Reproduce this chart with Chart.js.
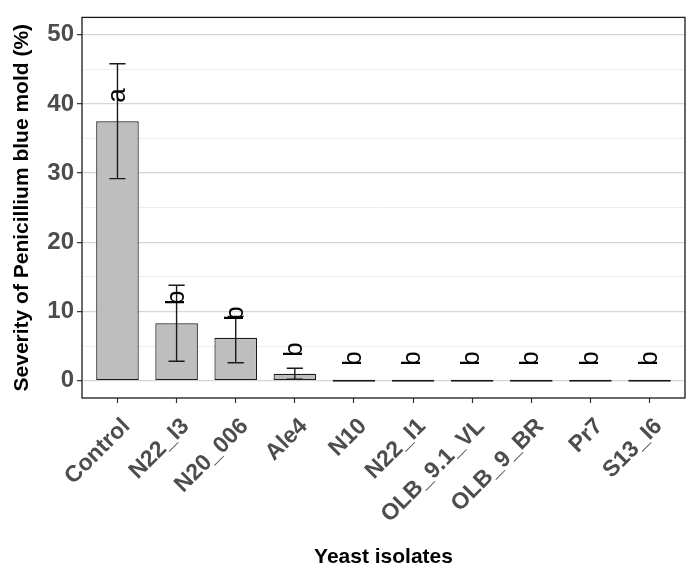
<!DOCTYPE html>
<html>
<head>
<meta charset="utf-8">
<script src="https://cdn.jsdelivr.net/npm/chart.js@4"></script>
<style>
  html, body { margin: 0; padding: 0; background: #ffffff; }
  #wrap { width: 692px; height: 578px; }
</style>
</head>
<body>
<div id="wrap"><canvas id="chart" width="692" height="578"></canvas></div>
<script>
// Data
const isolates = ['Control', 'N22_I3', 'N20_006', 'Ale4', 'N10', 'N22_I1', 'OLB_9.1_VL', 'OLB_9_BR', 'Pr7', 'S13_I6'];
const severity = [37.5, 8.3, 6.2, 1.0, 0, 0, 0, 0, 0, 0];
const errLow = [29.2, 2.8, 2.6, 0.2, null, null, null, null, null, null];
const errHigh = [45.8, 13.8, 9.3, 1.8, null, null, null, null, null, null];
const groupLetters = ['a', 'b', 'b', 'b', 'b', 'b', 'b', 'b', 'b', 'b'];
const letterPos = [41.2, 12.0, 9.7, 4.5, 3.2, 3.2, 3.2, 3.2, 3.2, 3.2];
const yTickValues = [0, 5, 10, 15, 20, 25, 30, 35, 40, 45, 50];
const yTickLabels = ['0', '', '10', '', '20', '', '30', '', '40', '', '50'];

const tickGray = '#4d4d4d';
const font = '"Liberation Sans", Arial, sans-serif';

// Panel border like ggplot theme_bw
const panelBorder = {
    id: 'panelBorder',
    afterDatasetsDraw(chart) {
        const { ctx, chartArea: a } = chart;
        ctx.save();
        ctx.strokeStyle = '#1a1a1a';
        ctx.lineWidth = 1.3;
        ctx.strokeRect(a.left, a.top, a.right - a.left, a.bottom - a.top);
        ctx.restore();
    }
};

// Error bars + significance letters
const errorBars = {
    id: 'errorBars',
    afterDatasetsDraw(chart) {
        const { ctx } = chart;
        const y = chart.scales.y;
        const meta = chart.getDatasetMeta(0);
        ctx.save();
        ctx.strokeStyle = '#1a1a1a';
        ctx.lineWidth = 1.4;
        meta.data.forEach((bar, i) => {
            if (errLow[i] === null) return;
            const x = bar.x;
            const half = bar.width * 0.19;
            const yl = y.getPixelForValue(errLow[i]);
            const yh = y.getPixelForValue(errHigh[i]);
            ctx.beginPath();
            ctx.moveTo(x, yl); ctx.lineTo(x, yh);
            ctx.moveTo(x - half, yh); ctx.lineTo(x + half, yh);
            ctx.moveTo(x - half, yl); ctx.lineTo(x + half, yl);
            ctx.stroke();
        });
        ctx.fillStyle = '#000000';
        ctx.font = '26px ' + font;
        ctx.textAlign = 'center';
        ctx.textBaseline = 'middle';
        meta.data.forEach((bar, i) => {
            ctx.save();
            ctx.translate(bar.x, y.getPixelForValue(letterPos[i]));
            ctx.rotate(-Math.PI / 2);
            ctx.fillText(groupLetters[i], 0, 0);
            ctx.restore();
        });
        ctx.restore();
    }
};

const ctx = document.getElementById('chart').getContext('2d');
new Chart(ctx, {
    type: 'bar',
    data: {
        datasets: [{
            data: severity.map((v, i) => ({ x: i, y: v })),
            backgroundColor: '#bebebe',
            borderColor: '#1a1a1a',
            borderWidth: 1.2,
            borderSkipped: false,
            minBarLength: 2,
            categoryPercentage: 1.0,
            barPercentage: 0.72
        }]
    },
    options: {
        responsive: false,
        animation: false,
        layout: { padding: { left: 0, right: 7, top: 16, bottom: 0 } },
        plugins: {
            legend: { display: false },
            tooltip: { enabled: false }
        },
        scales: {
            x: {
                type: 'linear',
                offset: false,
                min: -0.6,
                max: 9.6,
                afterFit(scale) { scale.height = 180; },
                afterBuildTicks(scale) {
                    scale.ticks = isolates.map((_, i) => ({ value: i }));
                },
                grid: {
                    offset: false,
                    drawOnChartArea: false,
                    drawTicks: true,
                    tickLength: 5,
                    tickColor: '#333333',
                    tickWidth: 1.2
                },
                border: { display: false },
                ticks: {
                    autoSkip: false,
                    maxRotation: 45,
                    minRotation: 45,
                    padding: 10,
                    labelOffset: 9,
                    color: tickGray,
                    font: { family: font, size: 23, weight: 'bold' },
                    callback: (v) => isolates[v]
                },
                title: {
                    display: true,
                    text: 'Yeast isolates',
                    color: '#000000',
                    padding: { top: 0, bottom: 8 },
                    font: { family: font, size: 21, weight: 'bold' }
                }
            },
            y: {
                min: -2.5,
                max: 52.5,
                afterFit(scale) { scale.width = 82; },
                afterBuildTicks(scale) {
                    scale.ticks = yTickValues.map(v => ({ value: v }));
                },
                grid: {
                    color: c => (c.tick && c.tick.value % 10 === 0) ? '#d6d6d6' : '#ececec',
                    lineWidth: c => (c.tick && c.tick.value % 10 === 0) ? 1.3 : 0.9,
                    tickLength: 5,
                    tickColor: c => (c.tick && c.tick.value % 10 === 0) ? '#333333' : 'rgba(0,0,0,0)',
                    tickWidth: 1.2
                },
                border: { display: false },
                ticks: {
                    padding: 3,
                    color: tickGray,
                    font: { family: font, size: 24, weight: 'bold' },
                    callback: (v, i) => yTickLabels[i]
                },
                title: {
                    display: true,
                    text: 'Severity of Penicillium blue mold (%)',
                    color: '#000000',
                    padding: { top: 10, bottom: 0 },
                    font: { family: font, size: 21, weight: 'bold' }
                }
            }
        }
    },
    plugins: [panelBorder, errorBars]
});
</script>
</body>
</html>
